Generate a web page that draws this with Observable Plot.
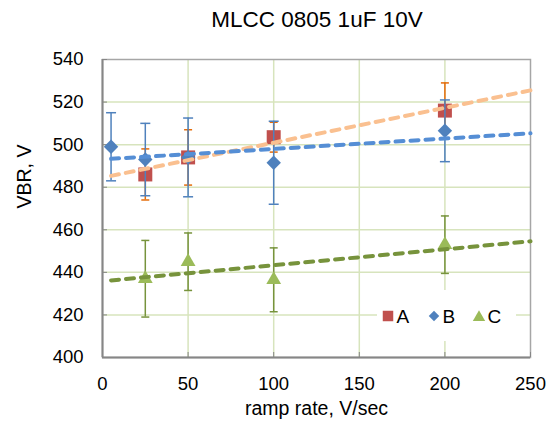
<!DOCTYPE html>
<html><head><meta charset="utf-8">
<script src="https://cdn.jsdelivr.net/npm/d3@7"></script>
<script src="https://cdn.jsdelivr.net/npm/@observablehq/plot@0.6"></script>
<style>
body{margin:0;background:#fff;font-family:"Liberation Sans",Arial,sans-serif;}
#wrap{position:relative;width:546px;height:428px;overflow:hidden;}
#title{height:40px;line-height:40px;font-size:22.5px;text-align:center;padding-left:88px;box-sizing:border-box;width:546px;color:#000;}
#legend{position:absolute;left:377px;top:290px;width:139px;height:51px;background:#fff;}
#legend svg{display:block;}
</style>
</head><body>
<div id="wrap">
  <div id="title">MLCC 0805 1uF 10V</div>
  <div id="chart"></div>
  <div id="legend"></div>
</div>
<script>
// ramp rate (V/sec), VBR mean (V), error (± V)
const xA = [25, 50, 100, 200];
const yA = [486, 494, 503.5, 516];
const eA = [12, 13, 7, 13];

const xB = [5, 25, 50, 100, 200];
const yB = [499, 493, 494, 491.5, 506.5];
const eB = [16, 17, 18.5, 19.5, 14.5];

const xC = [25, 50, 100, 200];
const yC = [437, 445, 436.5, 453];
const eC = [18, 13.5, 15, 13.5];

const seriesNames = ["A", "B", "C"];
const xTicks = [0, 50, 100, 150, 200, 250];
const yTicks = [400, 420, 440, 460, 480, 500, 520, 540];
const trendRange = [5, 250];

const font = '"Liberation Sans", Arial, sans-serif';

function rows(xs, ys, es) {
  return xs.map((x, i) => ({x, y: ys[i], lo: ys[i] - es[i], hi: ys[i] + es[i]}));
}
function fit(xs, ys) {
  const mx = d3.mean(xs), my = d3.mean(ys);
  let sxy = 0, sxx = 0;
  xs.forEach((x, i) => { sxy += (x - mx) * (ys[i] - my); sxx += (x - mx) ** 2; });
  const b = sxy / sxx;
  return trendRange.map(x => ({x, y: my + b * (x - mx)}));
}
const capSym = {
  draw(ctx, size) {
    const w = Math.sqrt(size / Math.PI);
    ctx.moveTo(-w, 0); ctx.lineTo(w, 0);
  }
};

const rA = rows(xA, yA, eA), rB = rows(xB, yB, eB), rC = rows(xC, yC, eC);

function series(r, errColor, fill, symbol, size, capR) {
  return [
    Plot.ruleX(r, {x: "x", y1: "lo", y2: "hi", stroke: errColor, strokeWidth: 1.5}),
    Plot.dot(r, {x: "x", y: "lo", symbol: capSym, r: capR, stroke: errColor, strokeWidth: 1.5, fill: "none"}),
    Plot.dot(r, {x: "x", y: "hi", symbol: capSym, r: capR, stroke: errColor, strokeWidth: 1.5, fill: "none"}),
    Plot.dot(r, {x: "x", y: "y", symbol, r: size, fill, stroke: "none"})
  ];
}
function trend(xs, ys, color) {
  return Plot.line(fit(xs, ys), {x: "x", y: "y", stroke: color, strokeWidth: 4,
    strokeDasharray: "8,7", strokeLinecap: "round"});
}

const chart = Plot.plot({
  width: 546,
  height: 388,
  marginLeft: 102,
  marginRight: 16,
  marginTop: 19,
  marginBottom: 71,
  style: {fontFamily: font, background: "#fff", color: "#000"},
  x: {domain: [0, 250]},
  y: {domain: [400, 540]},
  marks: [
    Plot.ruleX(xTicks.slice(1, -1), {stroke: "#D7E4BD", strokeWidth: 1.5}),
    Plot.ruleY(yTicks.slice(1, -1), {stroke: "#D7E4BD", strokeWidth: 1.5}),
    Plot.frame({stroke: "#A6A6A6", strokeWidth: 1.5}),
    Plot.axisX(xTicks, {tickSize: -5, tickFormat: () => "", stroke: "#868686", label: null}),
    Plot.axisY(yTicks, {tickSize: -5, tickFormat: () => "", stroke: "#868686", label: null}),
    Plot.axisX(xTicks, {tickSize: 0, tickPadding: 19.5, fontSize: 18.5, label: null}),
    Plot.axisY(yTicks, {tickSize: 0, tickPadding: 19, fontSize: 18.5, label: null}),
    Plot.ruleX([0], {stroke: "#868686", strokeWidth: 2}),
    Plot.ruleY([400], {stroke: "#868686", strokeWidth: 2}),
    Plot.text(["ramp rate, V/sec"], {text: d => d, frameAnchor: "bottom", dy: 57, fontSize: 19.5}),
    Plot.text(["VBR, V"], {text: d => d, frameAnchor: "left", dx: -78, rotate: -90, fontSize: 19.5}),
    ...series(rA, "#E46C0A", "#C0504D", "square", 7.9, 4),
    ...series(rB, "#4F81BD", "#4F81BD", "diamond2", 6.5, 5),
    ...series(rC, "#77933C", "#9BBB59", "triangle", 5.5, 4),
    trend(xA, yA, "#FAC090"),
    trend(xB, yB, "#558ED5"),
    trend(xC, yC, "#77933C")
  ]
});
document.getElementById("chart").appendChild(chart);

// legend
const legendColors = ["#C0504D", "#4F81BD", "#9BBB59"];
const legendShapes = [d3.symbolSquare, d3.symbolDiamond2, d3.symbolTriangle];
const legendSizes = [110, 70, 66];
const lg = d3.select("#legend").append("svg").attr("width", 139).attr("height", 51);
const itemX = [11, 57, 102];
seriesNames.forEach((name, i) => {
  lg.append("path")
    .attr("transform", `translate(${itemX[i]},${i === 2 ? 27.5 : 26})`)
    .attr("d", d3.symbol(legendShapes[i], legendSizes[i])())
    .attr("fill", legendColors[i]);
  lg.append("text").attr("x", itemX[i] + 8.5).attr("y", 26).attr("dy", "0.35em")
    .attr("font-family", font).attr("font-size", 19).text(name);
});
</script>
</body></html>
